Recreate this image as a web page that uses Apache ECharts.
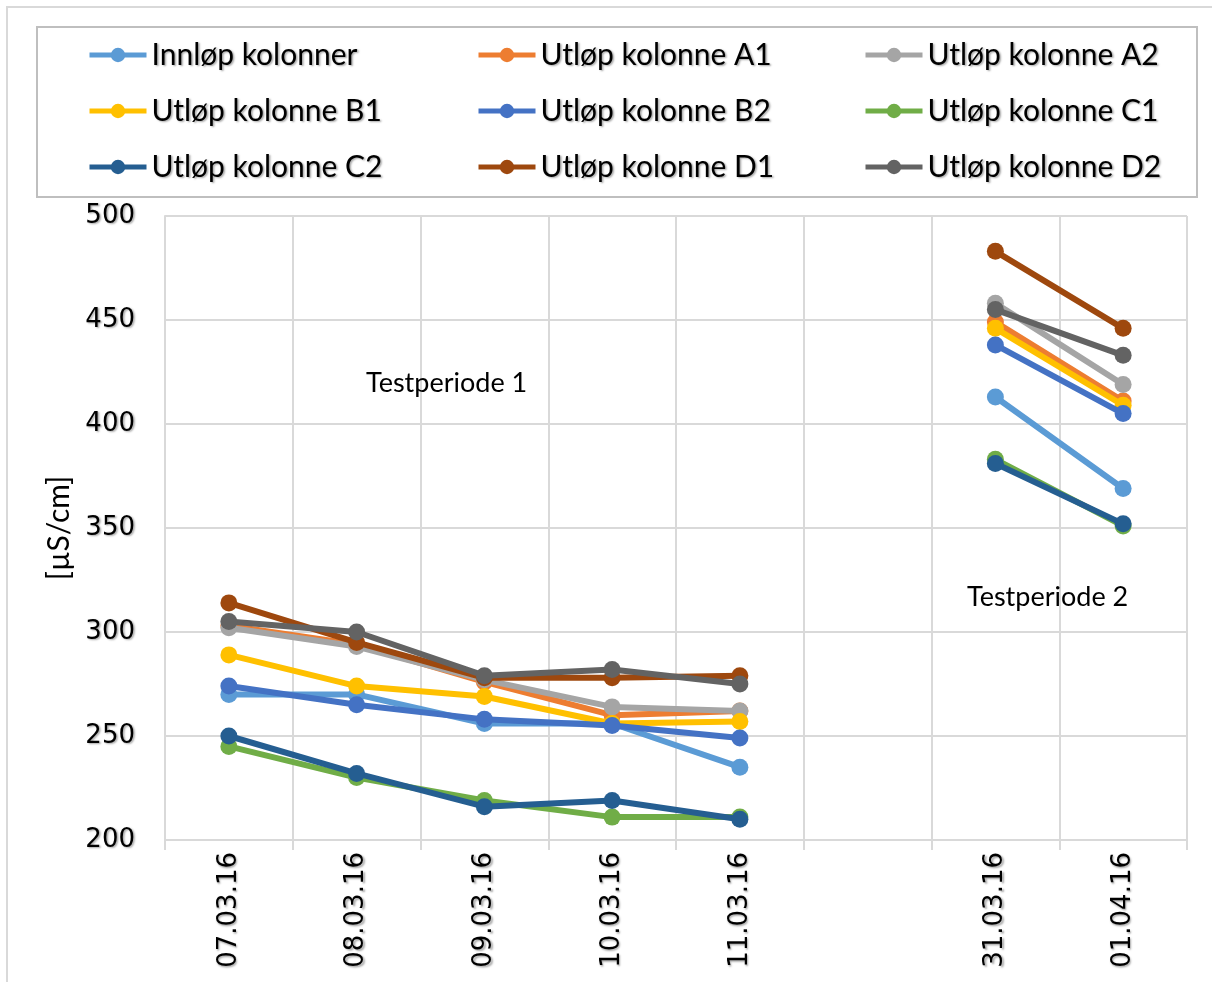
<!DOCTYPE html>
<html>
<head>
<meta charset="utf-8">
<script src="https://cdn.jsdelivr.net/npm/echarts@6/dist/echarts.min.js"></script>
<style>
  html, body { margin: 0; padding: 0; background: #ffffff; }
  #chart { width: 1212px; height: 982px; }
</style>
</head>
<body>
<div id="chart"></div>
<script>
// Sampling dates; the empty slot separates the two test periods
const dates = ['07.03.16', '08.03.16', '09.03.16', '10.03.16', '11.03.16', '', '31.03.16', '01.04.16'];

// Conductivity [µS/cm] per column
const innlop   = [270, 270, 256, 256, 235, null, 413, 369];
const utlopA1  = [303, 294, 276, 260, 262, null, 449, 411];
const utlopA2  = [302, 293, 277, 264, 262, null, 458, 419];
const utlopB1  = [289, 274, 269, 256, 257, null, 446, 409];
const utlopB2  = [274, 265, 258, 255, 249, null, 438, 405];
const utlopC1  = [245, 230, 219, 211, 211, null, 383, 351];
const utlopC2  = [250, 232, 216, 219, 210, null, 381, 352];
const utlopD1  = [314, 295, 278, 278, 279, null, 483, 446];
const utlopD2  = [305, 300, 279, 282, 275, null, 455, 433];

const seriesNames = [
  'Innløp kolonner', 'Utløp kolonne A1', 'Utløp kolonne A2',
  'Utløp kolonne B1', 'Utløp kolonne B2', 'Utløp kolonne C1',
  'Utløp kolonne C2', 'Utløp kolonne D1', 'Utløp kolonne D2'
];
const seriesValues = [innlop, utlopA1, utlopA2, utlopB1, utlopB2, utlopC1, utlopC2, utlopD1, utlopD2];
const seriesColors = ['#5B9BD5', '#ED7D31', '#A5A5A5', '#FFC000', '#4472C4', '#70AD47', '#255E91', '#9E480E', '#636363'];

const yTicks = { min: 200, max: 500, step: 50 };
const periodLabels = ['Testperiode 1', 'Testperiode 2'];

const gridColor = '#D9D9D9';
const shadow = {
  textShadowColor: 'rgba(0,0,0,0.35)',
  textShadowBlur: 2,
  textShadowOffsetX: 1.5,
  textShadowOffsetY: 1.5
};

const legendText = Object.assign({
  fontFamily: 'Lato', fontSize: 30, color: '#000'
}, shadow);

function legendColumn(left, names) {
  return {
    orient: 'vertical',
    left: left,
    top: 35,
    padding: 5,
    itemWidth: 57,
    itemHeight: 18,
    itemGap: 26,
    lineStyle: { width: 5 },
    itemStyle: { borderWidth: 0 },
    data: names,
    textStyle: legendText,
    selectedMode: false
  };
}

const chart = echarts.init(document.getElementById('chart'), null, { renderer: 'canvas' });

chart.setOption({
  backgroundColor: '#ffffff',
  animation: false,
  color: seriesColors,
  grid: { left: 165, right: 25, top: 216, bottom: 142, containLabel: false },
  legend: [
    legendColumn(82,  [seriesNames[0], seriesNames[3], seriesNames[6]]),
    legendColumn(471, [seriesNames[1], seriesNames[4], seriesNames[7]]),
    legendColumn(858, [seriesNames[2], seriesNames[5], seriesNames[8]])
  ],
  xAxis: {
    type: 'category',
    data: dates,
    boundaryGap: true,
    axisLine: { show: true, lineStyle: { color: gridColor, width: 2 } },
    axisTick: { show: true, length: 10, lineStyle: { color: gridColor, width: 2 } },
    splitLine: { show: true, lineStyle: { color: gridColor, width: 2 } },
    axisLabel: Object.assign({
      rotate: 90, interval: 0, margin: 12,
      fontFamily: 'DejaVu Sans', fontSize: 26, color: '#000'
    }, shadow)
  },
  yAxis: {
    type: 'value',
    min: yTicks.min, max: yTicks.max, interval: yTicks.step,
    name: '[µS/cm]',
    nameLocation: 'middle',
    nameRotate: 90,
    nameGap: 85,
    nameTextStyle: { fontFamily: 'Lato', fontSize: 30, color: '#000' },
    axisLine: { show: true, lineStyle: { color: gridColor, width: 2 } },
    axisTick: { show: false },
    splitLine: { show: true, lineStyle: { color: gridColor, width: 2 } },
    axisLabel: Object.assign({
      margin: 30, fontFamily: 'DejaVu Sans', fontSize: 26, color: '#000'
    }, shadow)
  },
  graphic: [
    // outer chart frame
    { type: 'rect', shape: { x: 7, y: 7, width: 1220, height: 990 },
      style: { fill: 'none', stroke: '#D9D9D9', lineWidth: 2 }, z: 0, silent: true },
    // legend frame
    { type: 'rect', shape: { x: 37, y: 27, width: 1160, height: 170 },
      style: { fill: 'none', stroke: '#BFBFBF', lineWidth: 2 }, z: 0, silent: true },
    { type: 'text', left: 366, top: 370,
      style: { text: periodLabels[0], font: '27px Lato', fill: '#000' }, z: 10 },
    { type: 'text', left: 967, top: 584,
      style: { text: periodLabels[1], font: '27px Lato', fill: '#000' }, z: 10 }
  ],
  series: seriesNames.map((name, i) => ({
    name: name,
    type: 'line',
    data: seriesValues[i],
    connectNulls: false,
    symbol: 'circle',
    symbolSize: 17,
    lineStyle: { width: 6, color: seriesColors[i] },
    itemStyle: { color: seriesColors[i] },
    z: 2 + i
  }))
});
</script>
</body>
</html>
